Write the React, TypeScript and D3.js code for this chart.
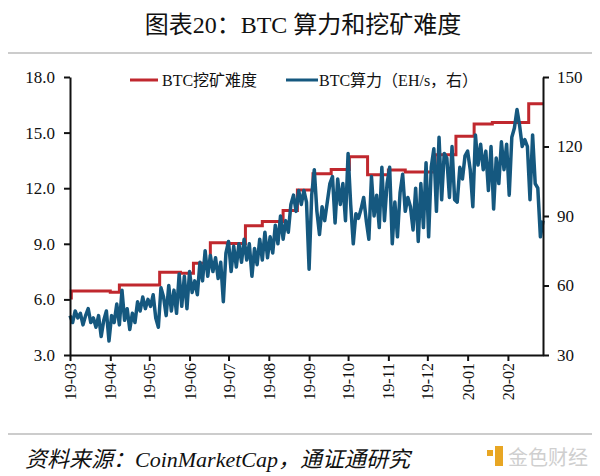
import React, { useEffect, useRef } from 'react';
import * as d3 from 'd3';

const startDate = new Date(2019, 2, 1);
const endDate = new Date(2020, 1, 28);

// BTC hash rate (EH/s), one value every 2 days from 2019-03-01
const hashRate = [
  47, 44, 49, 46, 48, 43, 47, 50, 44, 46, 42, 47, 38, 45, 49, 36, 47, 44, 52, 43,
  58, 45, 50, 41, 48, 44, 53, 49, 55, 50, 54, 51, 56, 46, 42, 59, 55, 47, 60, 49,
  58, 48, 65, 51, 64, 50, 66, 57, 62, 56, 70, 62, 75, 64, 73, 66, 72, 63, 70, 53,
  74, 79, 66, 77, 68, 78, 70, 80, 71, 78, 64, 76, 69, 80, 71, 83, 72, 81, 74, 86,
  78, 90, 80, 88, 83, 95, 99, 92, 101, 95, 101, 96, 67, 99, 110, 92, 82, 94, 88, 96,
  104, 107, 87, 106, 95, 104, 88, 117, 95, 78, 91, 89, 93, 98, 88, 80, 107, 90, 99, 85,
  111, 88, 104, 111, 78, 96, 81, 100, 108, 92, 98, 94, 84, 102, 79, 104, 85, 113, 81, 111,
  119, 92, 124, 97, 117, 115, 98, 120, 97, 96, 111, 106, 116, 118, 110, 94, 125, 112, 121, 110,
  118, 101, 120, 93, 115, 104, 122, 110, 121, 99, 124, 128, 136, 129, 120, 123, 120, 97, 125, 104,
  102, 81, 88,
];

// BTC mining difficulty (T): day offset of each adjustment and new level
const diffDays = [0, 1, 31, 38, 69, 85, 95, 108, 121, 135, 148, 164, 175, 187, 201, 215, 229, 245, 258, 281, 297, 311, 325, 353];
const diffValues = [6.07, 6.45, 6.39, 6.78, 7.46, 7.41, 7.95, 9.06, 9.01, 9.98, 10.2, 10.8, 11.9, 12.78, 13.01, 13.7, 12.73, 12.98, 12.88, 13.8, 14.8, 15.47, 15.55, 16.55];

const leftTicks = [3, 6, 9, 12, 15, 18];
const rightTicks = [30, 60, 90, 120, 150];

const RED = '#C0282E';
const BLUE = '#15587F';
const FONT = "'Liberation Serif', 'Times New Roman', 'Noto Sans CJK SC', serif";

export default () => {
  const svgRef = useRef<SVGSVGElement>(null);

  function loadGraph(elm: SVGSVGElement) {
    const svg = d3.select(elm);
    svg.selectAll('*').remove();

    const left = 70, right = 543, top = 77, bottom = 355;

    const x = d3.scaleTime().domain([startDate, endDate]).range([left, right]);
    const yL = d3.scaleLinear().domain([3, 18]).range([bottom, top]);
    const yR = d3.scaleLinear().domain([30, 150]).range([bottom, top]);

    svg.append('rect').attr('width', 600).attr('height', 476).attr('fill', '#fff');

    // title
    svg.append('text')
      .text('图表20：BTC 算力和挖矿难度')
      .attr('x', 303).attr('y', 33)
      .attr('text-anchor', 'middle')
      .attr('font-family', FONT)
      .attr('font-size', 24)
      .attr('fill', '#111');

    svg.append('line')
      .attr('x1', 8).attr('x2', 592).attr('y1', 53).attr('y2', 53)
      .attr('stroke', '#bbb').attr('stroke-width', 1.5);

    // difficulty step line
    const diffData = diffDays.map((d, i) => ({ date: d3.timeDay.offset(startDate, d), v: diffValues[i] }));
    diffData.push({ date: endDate, v: diffValues[diffValues.length - 1] });

    svg.append('path')
      .datum(diffData)
      .attr('fill', 'none')
      .attr('stroke', RED)
      .attr('stroke-width', 3)
      .attr('d', d3.line<any>().x(d => x(d.date)).y(d => yL(d.v)).curve(d3.curveStepAfter));

    // hash rate
    const hashData = hashRate.map((v, i) => ({ date: d3.timeDay.offset(startDate, i * 2), v }));
    svg.append('path')
      .datum(hashData)
      .attr('fill', 'none')
      .attr('stroke', BLUE)
      .attr('stroke-width', 3.5)
      .attr('stroke-linejoin', 'round')
      .attr('d', d3.line<any>().x(d => x(d.date)).y(d => yR(d.v)));

    // axes
    const gl = svg.append('g')
      .attr('transform', `translate(${left},0)`)
      .call(d3.axisLeft(yL).tickValues(leftTicks).tickFormat(d3.format('.1f')).tickSize(6).tickSizeOuter(0).tickPadding(9));

    const gr = svg.append('g')
      .attr('transform', `translate(${right},0)`)
      .call(d3.axisRight(yR).tickValues(rightTicks).tickFormat(d3.format('d')).tickSize(6).tickSizeOuter(0).tickPadding(8));

    const gb = svg.append('g')
      .attr('transform', `translate(0,${bottom})`)
      .call(d3.axisBottom(x).ticks(d3.timeMonth.every(1)).tickFormat(d3.timeFormat('%y-%m') as any).tickSize(6).tickSizeOuter(0));

    gb.selectAll('text')
      .attr('transform', 'rotate(-90)')
      .attr('text-anchor', 'end')
      .attr('x', -8)
      .attr('y', 0)
      .attr('dy', '0.35em');

    [gl, gr, gb].forEach(g => {
      g.selectAll('path').attr('stroke', '#111').attr('stroke-width', 2);
      g.selectAll('line').attr('stroke', '#111').attr('stroke-width', 2);
      g.selectAll('text')
        .attr('font-family', FONT)
        .attr('font-size', 17)
        .attr('fill', '#111');
    });
    gb.selectAll('text').attr('font-size', 16);

    // legend
    const lg = svg.append('g').attr('font-family', FONT).attr('font-size', 16).attr('fill', '#111');
    lg.append('line').attr('x1', 130).attr('x2', 158).attr('y1', 80).attr('y2', 80)
      .attr('stroke', RED).attr('stroke-width', 3);
    lg.append('text').text('BTC挖矿难度').attr('x', 162).attr('y', 86);
    lg.append('line').attr('x1', 286).attr('x2', 318).attr('y1', 80).attr('y2', 80)
      .attr('stroke', BLUE).attr('stroke-width', 3);
    lg.append('text').text('BTC算力（EH/s，右）').attr('x', 319).attr('y', 86);

    // footer
    svg.append('line')
      .attr('x1', 8).attr('x2', 592).attr('y1', 434).attr('y2', 434)
      .attr('stroke', '#bbb').attr('stroke-width', 1.5);

    svg.append('text')
      .text('资料来源：CoinMarketCap，通证通研究')
      .attr('x', 25).attr('y', 467)
      .attr('font-family', FONT)
      .attr('font-style', 'italic')
      .attr('font-size', 22)
      .attr('fill', '#111');

    svg.append('rect').attr('x', 487).attr('y', 450).attr('width', 6).attr('height', 6).attr('fill', '#E8A623');
    svg.append('rect').attr('x', 495).attr('y', 446).attr('width', 8).attr('height', 20).attr('fill', '#E8A623');
    svg.append('text')
      .text('金色财经')
      .attr('x', 508).attr('y', 465)
      .attr('font-family', "'Noto Sans CJK SC', sans-serif")
      .attr('font-size', 20)
      .attr('fill', '#cfcfcf');
  }

  useEffect(() => {
    if (svgRef.current) {
      loadGraph(svgRef.current);
    }
  }, []);

  return <svg ref={svgRef} width={600} height={476} style={{ position: 'absolute', left: 0, top: 0 }}></svg>;
}
